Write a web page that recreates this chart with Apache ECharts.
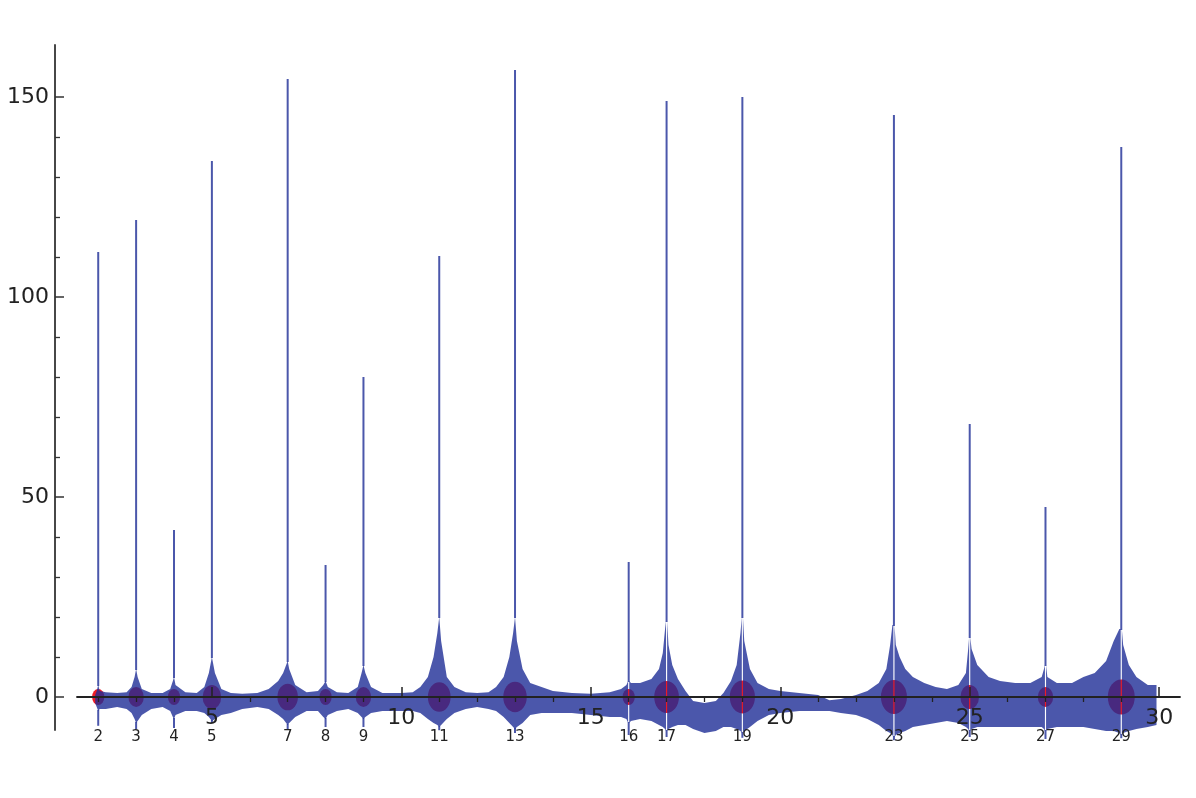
<!DOCTYPE html>
<html>
<head>
<meta charset="utf-8">
<script src="https://cdn.jsdelivr.net/npm/echarts@6/dist/echarts.min.js"></script>
<style>html,body{margin:0;padding:0;background:#fff}#c{width:1196px;height:798px}</style>
</head>
<body>
<div id="c"></div>
<script>
// ---- data ----
const primePowers = [2, 3, 4, 5, 7, 8, 9, 11, 13, 16, 17, 19, 23, 25, 27, 29];
const basePrimes  = [2, 3, 2, 5, 7, 2, 3, 11, 13, 2, 17, 19, 23, 5, 3, 29];
const spikeTops   = [111.25, 119.25, 41.75, 134, 154.5, 33, 80, 110.25, 156.75, 33.75, 149, 150, 145.5, 68.25, 47.5, 137.5];
const spikeBottoms = [-7.2, -8, -7.75, -6.5, -8, -7.5, -7.5, -8.3, -9, -9.5, -10, -10.2, -10.8, -10, -10.5, -10.3];
const gapPositions = [16, 17, 19, 23, 25, 27, 29];

const envX = [1.92,1.96,2.0,2.04,2.2,2.5,2.75,2.88,2.96,3.0,3.04,3.15,3.4,3.7,3.9,3.97,4.0,4.04,4.3,4.6,4.8,4.92,5.0,5.08,5.25,5.5,5.8,6.2,6.5,6.75,6.88,6.96,7.0,7.04,7.2,7.5,7.8,7.94,8.0,8.06,8.3,8.6,8.85,8.95,9.0,9.05,9.2,9.5,10.0,10.3,10.5,10.7,10.85,10.95,11.0,11.05,11.2,11.4,11.7,12.0,12.3,12.5,12.7,12.85,12.95,13.0,13.05,13.2,13.4,13.7,14.0,14.5,15.0,15.5,15.8,15.94,15.985,16.015,16.06,16.3,16.6,16.8,16.9,16.96,16.985,17.015,17.05,17.15,17.3,17.5,17.7,18.0,18.3,18.5,18.7,18.85,18.95,18.985,19.015,19.05,19.2,19.4,19.7,20.0,20.5,21.0,21.3,21.6,22.0,22.3,22.6,22.8,22.9,22.96,22.985,23.015,23.05,23.15,23.3,23.5,23.8,24.1,24.4,24.7,24.9,24.96,24.985,25.015,25.05,25.2,25.5,25.8,26.2,26.6,26.9,26.96,26.985,27.015,27.05,27.3,27.7,28.0,28.3,28.6,28.8,28.95,28.985,29.015,29.05,29.2,29.4,29.7,29.93];
const envUpper = [0.5,1.5,3,1.5,1.2,1,1.2,2.5,5,7,5,2,1,1,2,4,5,3,1.2,1,2.5,6,10,6,2,1,0.8,1,2,4,6,8,9,7,3,1.2,1.5,3,4,2.5,1.2,1,2.5,6,8,6,2.5,1,1,1.2,2.5,5,10,16,20,14,5,2.5,1.2,1,1.2,2.5,5,10,16,20,14,7,3.5,2.5,1.5,1,0.8,1.2,2,3,4,4,3.5,3.5,4.5,7,11,17,19,19,13,8,4.5,1.5,-1,-1.5,-1,1,4,8,16,20,20,14,7,3.5,2,1.5,1,0.5,-0.8,-0.5,0.5,1.5,3.5,7,13,18,18,18,13,10,7,5,3.5,2.5,2,3,6,12,15,15,12,8,5,4,3.5,3.5,5,7,8,8,5,3.5,3.5,5,6,9,14,17,17,17,13,8,5,3,3];
const envLower = [-1.5,-2.5,-3.5,-3,-3,-2.5,-3,-4,-5.5,-6.5,-6,-4.5,-3,-2.5,-3.5,-5,-5.5,-4.5,-3.5,-3.5,-4,-5,-6,-5.5,-4.5,-4,-3,-2.5,-3,-4.5,-5.5,-6.5,-7,-6.5,-5,-3.5,-3.5,-5,-5.5,-4.5,-3.5,-3,-4,-5,-5.5,-5,-4,-3.5,-3.5,-3.5,-4,-5.5,-6.5,-7,-7.5,-7,-5.5,-4,-3,-2.5,-3,-3.5,-5,-6.5,-7.5,-8,-7.5,-6.5,-4.5,-4,-4,-4,-4.5,-5,-5,-5.5,-6.5,-6.5,-6,-5.5,-6,-7,-7.5,-8,-8.5,-8.5,-8,-7.5,-7,-7,-8,-9,-8.5,-7.5,-7.5,-8,-8.5,-9,-9,-8.5,-7.5,-6,-4.5,-4,-3.5,-3.5,-3.5,-4,-4.5,-5.5,-7,-8.5,-9,-9.5,-10,-10,-9.5,-9,-8.5,-7.5,-7,-6.5,-6,-6.5,-7.5,-8,-8.5,-8.5,-8,-7.5,-7.5,-7.5,-7.5,-7.5,-7.5,-8,-8.5,-8.5,-8,-7.5,-7.5,-7.5,-8,-8.5,-8.5,-9,-9.5,-9.5,-9,-8.5,-8,-7.5,-7];

const majorXTicks = [5, 10, 15, 20, 25, 30];
const minorXTicks = [2,3,4,6,7,8,9,11,12,13,14,16,17,18,19,21,22,23,24,26,27,28,29];
const majorYTicks = [0, 50, 100, 150];
const minorYTicks = [10,20,30,40,60,70,80,90,110,120,130,140];

// ---- styles ----
const BAND = 'rgba(30,45,150,0.8)';
const RED = '#ee1c25';
const FONT = 'DejaVu Sans';
const TXT = '#222';

const chart = echarts.init(document.getElementById('c'), null, {renderer: 'canvas'});

function isGapBetween(a, b) {
  return gapPositions.some(g => a < g && b > g);
}
function nearestIdx(x) {
  let best = 0, bd = Infinity;
  for (let i = 0; i < envX.length; i++) {
    const d = Math.abs(envX[i] - x);
    if (d < bd) { bd = d; best = i; }
  }
  return best;
}

function renderBand(params, api) {
  if (params.dataIndex !== 0) return null;
  const children = [];
  const segs = [];
  let seg = [];
  for (let i = 0; i < envX.length; i++) {
    if (i > 0 && isGapBetween(envX[i - 1], envX[i])) { segs.push(seg); seg = []; }
    seg.push(i);
  }
  segs.push(seg);
  segs.forEach(s => {
    const up = s.map(i => api.coord([envX[i], envUpper[i]]));
    const lo = s.slice().reverse().map(i => api.coord([envX[i], envLower[i]]));
    children.push({type: 'polygon', shape: {points: up.concat(lo)}, style: {fill: BAND}});
  });
  primePowers.forEach((p, k) => {
    const i = nearestIdx(p);
    const cTop = api.coord([p, spikeTops[k]]);
    const cUp = api.coord([p, envUpper[i]]);
    const cLo = api.coord([p, envLower[i]]);
    const cBot = api.coord([p, spikeBottoms[k]]);
    children.push({type: 'line', shape: {x1: cTop[0], y1: cTop[1], x2: cUp[0], y2: cUp[1] + 1},
      style: {stroke: BAND, lineWidth: 2}});
    children.push({type: 'line', shape: {x1: cLo[0], y1: cLo[1] - 1, x2: cBot[0], y2: cBot[1]},
      style: {stroke: BAND, lineWidth: 2}});
  });
  return {type: 'group', children};
}

const option = {
  animation: false,
  backgroundColor: '#fff',
  grid: {left: 77, right: 16, top: 45, bottom: 68, containLabel: false},
  xAxis: [
    {
      type: 'value', min: 1.44, max: 30.55, z: 10,
      axisLine: {show: true, onZero: true, onZeroAxisIndex: 0, lineStyle: {color: '#222', width: 1.8}},
      axisTick: {show: true, inside: true, length: 10, customValues: majorXTicks, lineStyle: {color: '#222', width: 1.5}},
      axisLabel: {show: true, customValues: majorXTicks, margin: -23, fontSize: 22, fontFamily: FONT, color: TXT},
      splitLine: {show: false}
    },
    {
      type: 'value', min: 1.44, max: 30.55, z: 10,
      axisLine: {show: false, onZero: true, onZeroAxisIndex: 1},
      axisTick: {show: true, inside: true, length: 5, customValues: minorXTicks, lineStyle: {color: '#222', width: 1.3}},
      axisLabel: {show: false},
      splitLine: {show: false}
    },
    {
      type: 'value', min: 1.44, max: 30.55, position: 'bottom', z: 10,
      axisLine: {show: false, onZero: false},
      axisTick: {show: false},
      axisLabel: {show: true, customValues: primePowers, margin: 0, fontSize: 15, fontFamily: FONT, color: TXT},
      splitLine: {show: false}
    }
  ],
  yAxis: [
    {
      type: 'value', min: -8.25, max: 163, position: 'left', offset: 22, z: 10,
      axisLine: {show: true, onZero: false, lineStyle: {color: '#333', width: 1.8}},
      axisTick: {show: true, inside: true, length: 9, customValues: majorYTicks, lineStyle: {color: '#333', width: 1.5}},
      axisLabel: {show: true, customValues: majorYTicks, margin: 6, fontSize: 22, fontFamily: FONT, color: TXT},
      splitLine: {show: false}
    },
    {
      type: 'value', min: -8.25, max: 163, position: 'left', offset: 22, z: 10,
      axisLine: {show: false, onZero: false},
      axisTick: {show: true, inside: true, length: 5, customValues: minorYTicks, lineStyle: {color: '#333', width: 1.3}},
      axisLabel: {show: false},
      splitLine: {show: false}
    }
  ],
  series: [
    {
      type: 'scatter', xAxisIndex: 0, yAxisIndex: 0, z: 1,
      data: primePowers.map(p => [p, 0]),
      symbol: 'circle',
      symbolSize: function (val, params) {
        const q = basePrimes[params.dataIndex];
        const w = 14.7 * Math.sqrt(Math.log(q));
        return [w, w * 1.3];
      },
      itemStyle: {color: RED, opacity: 1},
      emphasis: {disabled: true},
      silent: true
    },
    {
      type: 'custom', xAxisIndex: 0, yAxisIndex: 0, z: 2, clip: false,
      data: envX.map((x, i) => [x, envUpper[i], envLower[i]]),
      encode: {x: 0, y: [1, 2]},
      renderItem: renderBand,
      silent: true
    }
  ]
};
chart.setOption(option);
</script>
</body>
</html>
